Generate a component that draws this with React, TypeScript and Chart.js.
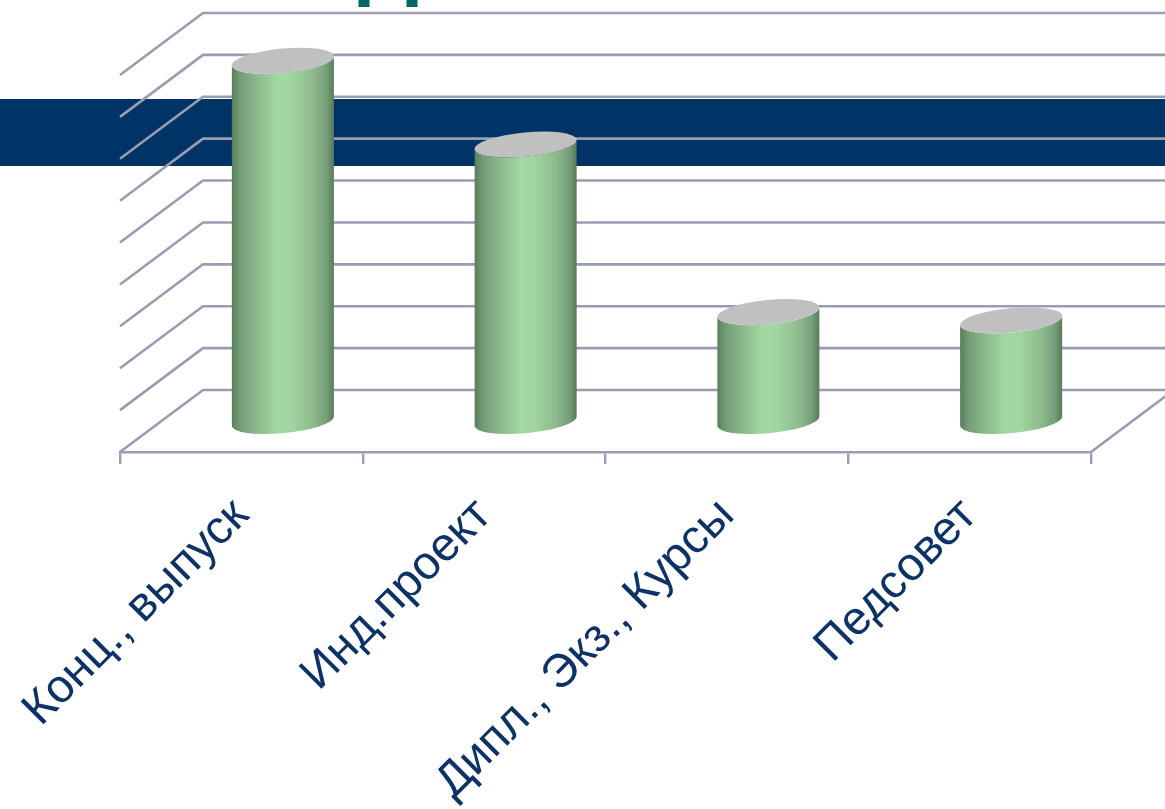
import React, { useEffect, useRef } from "react";
import { Chart, registerables } from "chart.js";

Chart.register(...registerables);

const categories = ["Конц., выпуск", "Инд.проект", "Дипл., Экз., Курсы", "Педсовет"];
const values = [43, 33, 13, 12];
const axisMax = 45;
const axisStep = 5;

const GRID = "#989db2";
const DEPTH_X = 83;
const DEPTH_Y = -62;

const wallsPlugin = {
  id: "walls",
  beforeDraw(chart: any) {
    const { ctx, chartArea, scales } = chart;
    const { left, right, bottom } = chartArea;
    ctx.save();
    ctx.fillStyle = "#ffffff";
    ctx.fillRect(0, 0, chart.width, chart.height);
    // slide furniture behind the chart
    ctx.fillStyle = "#003366";
    ctx.fillRect(0, 99, chart.width, 67);
    ctx.fillStyle = "#006666";
    ctx.fillRect(358.5, 0, 11, 7);
    ctx.fillRect(406.5, 0, 11, 7);
    // walls
    ctx.strokeStyle = GRID;
    ctx.lineWidth = 2.6;
    ctx.lineCap = "butt";
    for (const tick of scales.y.ticks) {
      const y = scales.y.getPixelForValue(tick.value);
      ctx.beginPath();
      ctx.moveTo(left, y);
      ctx.lineTo(left + DEPTH_X, y + DEPTH_Y);
      ctx.lineTo(right + DEPTH_X, y + DEPTH_Y);
      ctx.stroke();
    }
    ctx.beginPath();
    ctx.moveTo(right, bottom);
    ctx.lineTo(right + DEPTH_X, bottom + DEPTH_Y);
    ctx.stroke();
    ctx.restore();
  },
};

const cylinderPlugin = {
  id: "cylinders",
  afterDatasetsDraw(chart: any) {
    const { ctx } = chart;
    const bars = chart.getDatasetMeta(0).data;
    const theta = (-5.4 * Math.PI) / 180;
    ctx.save();
    for (const bar of bars) {
      const a = bar.width / 2;
      const b = 12.2;
      const cx = bar.x + DEPTH_X / 2;
      const topY = bar.y + DEPTH_Y / 2;
      const baseY = bar.base + DEPTH_Y / 2;
      const t0 = Math.atan(-(b / a) * Math.tan(theta));
      const ex =
        a * Math.cos(t0) * Math.cos(theta) - b * Math.sin(t0) * Math.sin(theta);
      const ey =
        a * Math.cos(t0) * Math.sin(theta) + b * Math.sin(t0) * Math.cos(theta);
      const g = ctx.createLinearGradient(cx - ex, 0, cx + ex, 0);
      g.addColorStop(0, "#587f5b");
      g.addColorStop(0.08, "#739c75");
      g.addColorStop(0.28, "#8fbf90");
      g.addColorStop(0.45, "#a3d8a3");
      g.addColorStop(0.58, "#a1d5a1");
      g.addColorStop(0.8, "#8dba8d");
      g.addColorStop(0.93, "#769d77");
      g.addColorStop(1, "#587a5a");
      ctx.beginPath();
      ctx.moveTo(cx - ex, topY - ey);
      ctx.lineTo(cx - ex, baseY - ey);
      ctx.ellipse(cx, baseY, a, b, theta, t0 + Math.PI, t0, true);
      ctx.lineTo(cx + ex, topY + ey);
      ctx.ellipse(cx, topY, a, b, theta, t0, t0 + Math.PI, false);
      ctx.closePath();
      ctx.fillStyle = g;
      ctx.fill();
      ctx.beginPath();
      ctx.ellipse(cx, topY, a, b, theta, 0, Math.PI * 2);
      ctx.fillStyle = "#c0c0c0";
      ctx.fill();
    }
    ctx.restore();
  },
};

export default function App() {
  const ref = useRef<HTMLCanvasElement>(null);
  useEffect(() => {
    document.body.style.margin = "0";
    const chart = new Chart(ref.current!, {
      type: "bar",
      data: {
        labels: categories,
        datasets: [
          {
            data: values,
            backgroundColor: "rgba(0,0,0,0)",
            borderWidth: 0,
            barPercentage: 0.422,
            categoryPercentage: 1,
          },
        ],
      },
      options: {
        animation: false,
        responsive: false,
        devicePixelRatio: 1,
        layout: { padding: { left: 120, right: 74, top: 75, bottom: 0 } },
        plugins: { legend: { display: false }, title: { display: false }, tooltip: { enabled: false } },
        scales: {
          x: {
            afterFit(scale: any) {
              scale.height = 357;
              scale.paddingLeft = 0;
              scale.paddingRight = 0;
            },
            grid: { drawOnChartArea: false, color: GRID, tickLength: 12, lineWidth: 2.4 },
            border: { color: GRID, width: 2.6 },
            ticks: {
              autoSkip: false,
              minRotation: 45,
              maxRotation: 45,
              padding: 24,
              color: "#0c3266",
              font: { family: "'Liberation Sans'", size: 47 },
            },
          },
          y: {
            display: false,
            min: 0,
            max: axisMax,
            ticks: { stepSize: axisStep },
          },
        },
      },
      plugins: [wallsPlugin, cylinderPlugin],
    } as any);
    return () => chart.destroy();
  }, []);
  return (
    <canvas
      ref={ref}
      width={1165}
      height={809}
      style={{ display: "block", position: "absolute", left: 0, top: 0 }}
    />
  );
}
